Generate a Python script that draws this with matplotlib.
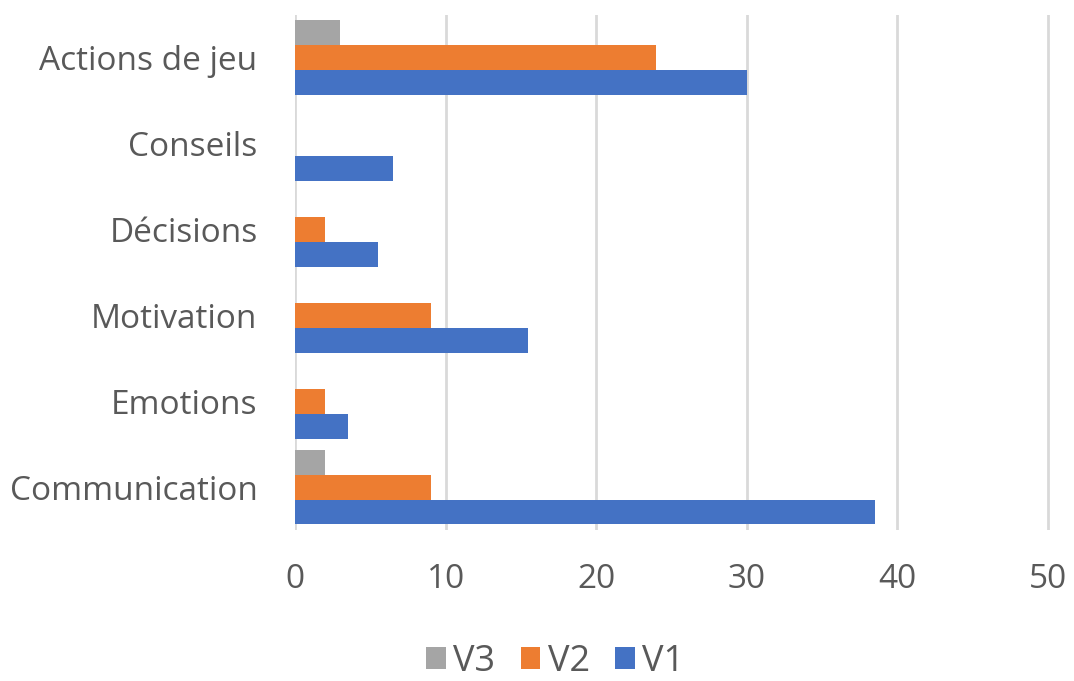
import matplotlib
matplotlib.use("Agg")
import matplotlib.pyplot as plt
import numpy as np

categories = ["Actions de jeu", "Conseils", "Décisions", "Motivation", "Emotions", "Communication"]
v1 = [30, 6.5, 5.5, 15.5, 3.5, 38.5]
v2 = [24, 0, 2, 9, 2, 9]
v3 = [3, 0, 0, 0, 0, 2]
xticks = [0, 10, 20, 30, 40, 50]

plt.rcParams['font.family'] = ['Open Sans', 'DejaVu Sans']
text_color = "#595959"

fig = plt.figure(figsize=(10.74, 6.81), dpi=100)
ax = fig.add_axes([0.2747, 0.2217, 0.7053, 0.757])

y = np.arange(len(categories))
h = 0.29
ax.barh(y - h, v3, height=h, color="#A5A5A5", label="V3", zorder=3)
ax.barh(y, v2, height=h, color="#ED7D31", label="V2", zorder=3)
ax.barh(y + h, v1, height=h, color="#4472C4", label="V1", zorder=3)

ax.set_ylim(len(categories) - 0.5, -0.5)
ax.set_xlim(0, 50.3)
ax.set_xticks(xticks)
ax.set_yticks(y)
ax.set_yticklabels(categories)
ax.grid(axis="x", color="#D9D9D9", linewidth=2, zorder=0)
for s in ax.spines.values():
    s.set_visible(False)
ax.tick_params(axis="both", length=0, labelsize=24, colors=text_color)
ax.tick_params(axis="y", pad=27)
ax.tick_params(axis="x", pad=24)

handles, labels = ax.get_legend_handles_labels()
leg = fig.legend(handles, labels, loc="center", bbox_to_anchor=(0.517, 0.028), ncol=3,
                 frameon=False, fontsize=26, handlelength=0.55, handleheight=0.55,
                 columnspacing=0.7, handletextpad=0.2, labelcolor=text_color)

fig.savefig("out.png", dpi=100)
